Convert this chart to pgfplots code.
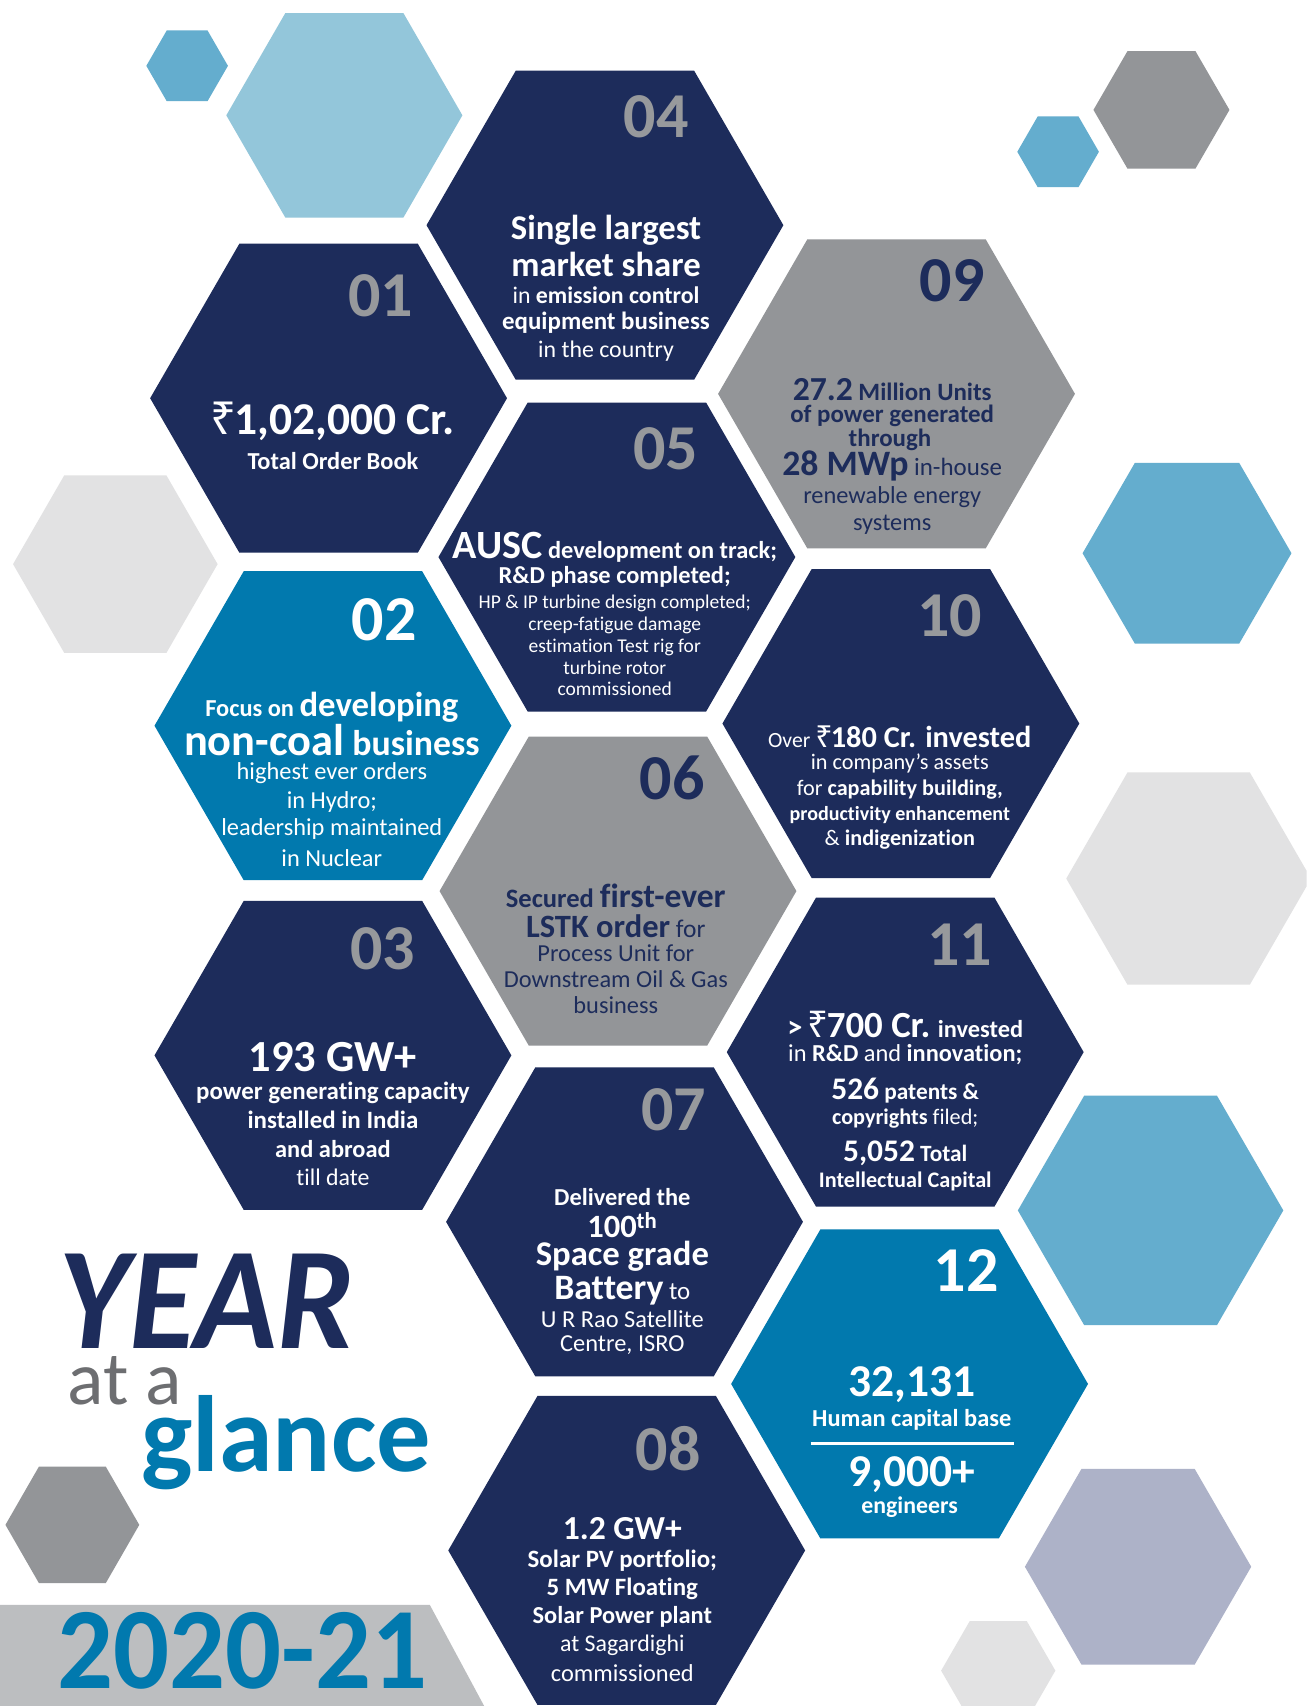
\documentclass[border=0pt]{standalone}
\usepackage{fontspec}
\setmainfont{Carlito}[Ligatures={NoCommon}]
\newfontfamily\rsfont{Noto Sans}
\usepackage{graphicx}
\usepackage{pgfplots}
\pgfplotsset{compat=1.18}

\definecolor{navy}{HTML}{1D2C5B}
\definecolor{hexgray}{HTML}{939598}
\definecolor{numgray}{HTML}{97999C}
\definecolor{blue}{HTML}{0179AE}
\definecolor{pale}{HTML}{93C6DA}
\definecolor{midblue}{HTML}{64ADCE}
\definecolor{lgray}{HTML}{E2E2E3}
\definecolor{lavender}{HTML}{ADB2C8}
\definecolor{bargray}{HTML}{BCBEC0}
\definecolor{atagray}{HTML}{6D6E71}

\newcommand{\fs}[1]{\fontsize{#1}{#1}\selectfont}
\newcommand{\Rs}{{\rsfont ₹}\kern-0.06em}
% one line of text, centred at (x,y)
\newcommand{\Tx}[5][white]{\node[inner sep=0pt, text=#1, font=\fs{#4}] at (axis cs:#2,#3) {#5};}
% hexagon number
\newcommand{\Num}[4][numgray]{\node[inner sep=0pt, text=#1, font=\fs{59}\bfseries] at (axis cs:#2,#3) {#4};}

\begin{document}
\begin{tikzpicture}
\begin{axis}[
  width=1201bp, height=1568bp, scale only axis,
  xmin=0, xmax=1201, ymin=0, ymax=1568,
  y dir=reverse, hide axis, clip=true
]
\addplot[fill=white, draw=none] coordinates {(0,0)(1201,0)(1201,1568)(0,1568)} -- cycle;

% decorative hexagons
\addplot[fill=midblue, draw=none] coordinates {(134.5,60.5)(153.25,28)(190.75,28)(209.5,60.5)(190.75,93)(153.25,93)} -- cycle;
\addplot[fill=pale, draw=none] coordinates {(208,106)(262.25,12)(370.75,12)(425,106)(370.75,200)(262.25,200)} -- cycle;
\addplot[fill=hexgray, draw=none] coordinates {(1005,101)(1036.25,47)(1098.75,47)(1130,101)(1098.75,155)(1036.25,155)} -- cycle;
\addplot[fill=midblue, draw=none] coordinates {(935,139.5)(953.75,107)(991.25,107)(1010,139.5)(991.25,172)(953.75,172)} -- cycle;
\addplot[fill=lgray, draw=none] coordinates {(12,518.5)(59,437)(153,437)(200,518.5)(153,600)(59,600)} -- cycle;
\addplot[fill=midblue, draw=none] coordinates {(995,508.5)(1043,425.5)(1139,425.5)(1187,508.5)(1139,591.5)(1043,591.5)} -- cycle;
\addplot[fill=lgray, draw=none] coordinates {(980,807.5)(1036.25,710)(1148.75,710)(1205,807.5)(1148.75,905)(1036.25,905)} -- cycle;
\addplot[fill=midblue, draw=none] coordinates {(935.5,1112.5)(996.5,1007)(1118.5,1007)(1179.5,1112.5)(1118.5,1218)(996.5,1218)} -- cycle;
\addplot[fill=lavender, draw=none] coordinates {(942,1440)(994,1350)(1098,1350)(1150,1440)(1098,1530)(994,1530)} -- cycle;
\addplot[fill=lgray, draw=none] coordinates {(865,1535.5)(891.25,1490)(943.75,1490)(970,1535.5)(943.75,1581)(891.25,1581)} -- cycle;
\addplot[fill=hexgray, draw=none] coordinates {(5,1401.5)(35.75,1348)(97.25,1348)(128,1401.5)(97.25,1455)(35.75,1455)} -- cycle;

% main hexagons
\addplot[fill=navy, draw=none] coordinates {(138,366)(220,224)(384,224)(466,366)(384,508)(220,508)} -- cycle;       % 01
\addplot[fill=navy, draw=none] coordinates {(392,207)(474,65)(638,65)(720,207)(638,349)(474,349)} -- cycle;         % 04
\addplot[fill=hexgray, draw=none] coordinates {(660,362)(742,220)(906,220)(988,362)(906,504)(742,504)} -- cycle;    % 09
\addplot[fill=navy, draw=none] coordinates {(403,512)(485,370)(649,370)(731,512)(649,654)(485,654)} -- cycle;       % 05
\addplot[fill=blue, draw=none] coordinates {(142,667)(224,525)(388,525)(470,667)(388,809)(224,809)} -- cycle;       % 02
\addplot[fill=navy, draw=none] coordinates {(664,665)(746,523)(910,523)(992,665)(910,807)(746,807)} -- cycle;       % 10
\addplot[fill=hexgray, draw=none] coordinates {(404,819)(486,677)(650,677)(732,819)(650,961)(486,961)} -- cycle;    % 06
\addplot[fill=navy, draw=none] coordinates {(142,970)(224,828)(388,828)(470,970)(388,1112)(224,1112)} -- cycle;     % 03
\addplot[fill=navy, draw=none] coordinates {(668,967)(750,825)(914,825)(996,967)(914,1109)(750,1109)} -- cycle;     % 11
\addplot[fill=navy, draw=none] coordinates {(410,1123)(492,981)(656,981)(738,1123)(656,1265)(492,1265)} -- cycle;   % 07
\addplot[fill=blue, draw=none] coordinates {(672,1272)(754,1130)(918,1130)(1000,1272)(918,1414)(754,1414)} -- cycle;% 12
\addplot[fill=navy, draw=none] coordinates {(412,1425)(494,1283)(658,1283)(740,1425)(658,1567)(494,1567)} -- cycle;  % 08

% bottom band
\addplot[fill=bargray, draw=none] coordinates {(0,1475)(395,1475)(445,1568)(0,1568)} -- cycle;

% numbers
\Num{350}{272}{01}
\Num{603}{107}{04}
\Num[navy]{875}{258}{09}
\Num{612}{412}{05}
\Num[white]{353}{570}{02}
\Num{873}{566}{10}
\Num[navy]{618}{715}{06}
\Num{352}{872}{03}
\Num{882}{868}{11}
\Num{619}{1020}{07}
\Num[white]{888}{1168}{12}
\Num{614}{1331}{08}

% 01
\Tx{306}{387}{42}{\bfseries\Rs1,02,000 Cr.}
\Tx{306}{424}{22.5}{\bfseries Total Order Book}
% 04
\Tx{557}{212}{32}{\bfseries Single largest}
\Tx{557}{243}{32}{\bfseries market share}
\Tx{557}{271}{22}{in \textbf{emission control}}
\Tx{557}{297}{23}{\bfseries equipment business}
\Tx{557}{323}{22}{in the country}
% 09
\Tx[navy]{820}{358}{23}{\bfseries{\fs{31}27.2} Million Units}
\Tx[navy]{820}{382}{23}{\bfseries of power generated}
\Tx[navy]{818}{404}{23}{\bfseries through}
\Tx[navy]{820}{428}{23}{{\bfseries\fs{33}28 MWp} in-house}
\Tx[navy]{820}{457}{22.5}{renewable energy}
\Tx[navy]{820}{482}{22.5}{systems}
% 05
\Tx{565}{503}{22.5}{\bfseries{\fs{37}AUSC} development on track;}
\Tx{565}{530}{22.5}{\bfseries R\&D phase completed;}
\Tx{565}{555}{18}{HP \& IP turbine design completed;}
\Tx{565}{575}{18}{creep-fatigue damage}
\Tx{565}{595}{18}{estimation Test rig for}
\Tx{565}{614}{18}{turbine rotor}
\Tx{565}{633}{18}{commissioned}
% 02
\Tx{305}{650}{22.5}{\bfseries Focus on {\fs{32}developing}}
\Tx{305}{680}{33}{\bfseries{\fs{41}non-coal} business}
\Tx{305}{711}{22.5}{highest ever orders}
\Tx{305}{737}{22.5}{in Hydro;}
\Tx{305}{762}{22.5}{leadership maintained}
\Tx{305}{789}{22.5}{in Nuclear}
% 10
\Tx{827}{677}{20}{Over {\bfseries\fs{28}\Rs180 Cr. invested}}
\Tx{827}{702}{20.5}{in company’s assets}
\Tx{827}{726}{20.5}{for \textbf{capability building,}}
\Tx{827}{749}{18.5}{\bfseries productivity enhancement}
\Tx{827}{772}{20.5}{\& \textbf{indigenization}}
% 06
\Tx[navy]{566}{823}{24.5}{\bfseries Secured {\fs{31}first-ever}}
\Tx[navy]{566}{851}{23.5}{{\bfseries\fs{30}LSTK order} for}
\Tx[navy]{566}{876}{22.5}{Process Unit for}
\Tx[navy]{566}{900}{22.5}{Downstream Oil \& Gas}
\Tx[navy]{566}{924}{22.5}{business}
% 03
\Tx{306}{972}{41}{\bfseries 193 GW+}
\Tx{306}{1004}{23}{\bfseries power generating capacity}
\Tx{306}{1029}{23}{\bfseries installed in India}
\Tx{306}{1056}{22.5}{\bfseries and abroad}
\Tx{306}{1082}{22}{till date}
% 11
\Tx{832}{942}{22.5}{\bfseries{\fs{28}>} {\fs{34}\Rs700 Cr.} invested}
\Tx{832}{969}{22.5}{in \textbf{R\&D} and \textbf{innovation;}}
\Tx{832}{1002}{21.5}{\bfseries{\fs{29}526} patents \&}
\Tx{832}{1028}{20.5}{\textbf{copyrights} filed;}
\Tx{832}{1060}{21.5}{\bfseries{\fs{29}5,052} Total}
\Tx{832}{1086}{20.5}{\bfseries Intellectual Capital}
% 07
\Tx{572}{1100}{22.5}{\bfseries Delivered the}
\Tx{572}{1126}{30}{\bfseries 100\textsuperscript{th}}
\Tx{572}{1155}{32}{\bfseries Space grade}
\Tx{572}{1186}{23}{{\bfseries\fs{33}Battery} to}
\Tx{572}{1212}{22.5}{U R Rao Satellite}
\Tx{572}{1236}{22.5}{Centre, ISRO}
% 12
\Tx{838}{1273}{42}{\bfseries 32,131}
\Tx{838}{1305}{22.5}{\bfseries Human capital base}
\addplot[white, line width=2.5bp] coordinates {(745,1327)(932,1327)};
\Tx{838}{1355}{42}{\bfseries 9,000+}
\Tx{836}{1385}{22}{\bfseries engineers}
% 08
\Tx{572}{1405}{31}{\bfseries 1.2 GW+}
\Tx{572}{1434}{23}{\bfseries Solar PV portfolio;}
\Tx{572}{1460}{23}{\bfseries 5 MW Floating}
\Tx{572}{1486}{22.5}{\bfseries Solar Power plant}
\Tx{572}{1512}{22}{at Sagardighi}
\Tx{572}{1538}{22.5}{commissioned}

% title
\node[anchor=base, inner sep=0pt, text=navy, font=\fs{120}\bfseries\itshape] at (axis cs:190,1239) {\scalebox{1.05}[1.12]{YEAR}};
\node[anchor=base, inner sep=0pt, text=atagray, font=\fs{70}] at (axis cs:115,1291) {at a};
\node[anchor=base, inner sep=0pt, text=blue, font=\fs{100}\bfseries] at (axis cs:263,1352) {glance};
\node[anchor=base, inner sep=0pt, text=blue, font=\fs{102}\bfseries] at (axis cs:223,1552) {\scalebox{1}[1.05]{2020-21}};
\end{axis}
\end{tikzpicture}
\end{document}
